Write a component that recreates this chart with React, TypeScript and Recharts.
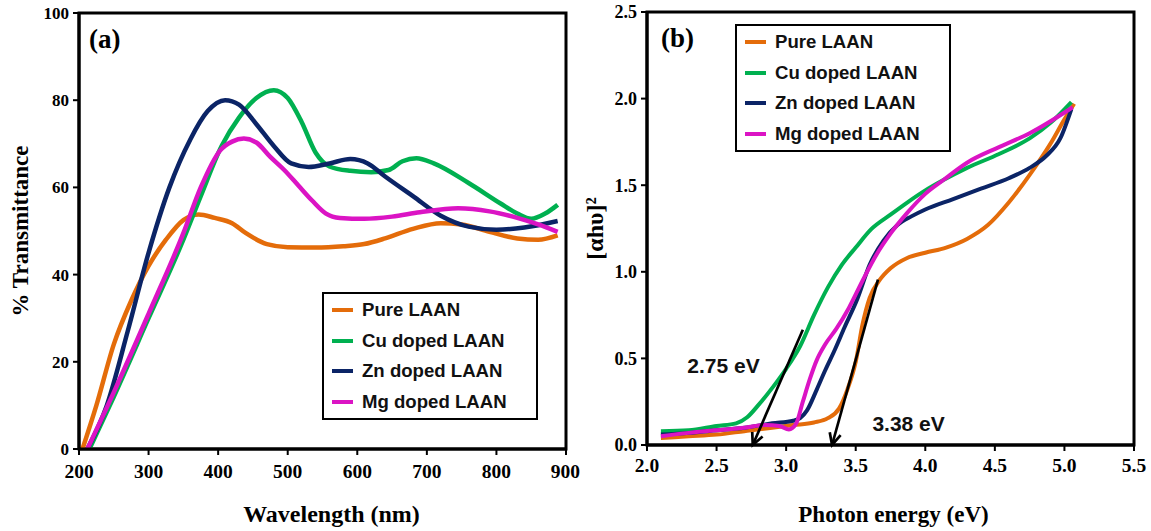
import {
  Legend,
  Line,
  LineChart,
  ReferenceArea,
  ReferenceDot,
  ReferenceLine,
  XAxis,
  YAxis,
} from "recharts";

const SERIF = "'Liberation Serif', 'Times New Roman', serif";
const SANS = "'Liberation Sans', Arial, sans-serif";

// panel (a): wavelength (nm) vs % transmittance
const wavelengthTicks = [200, 300, 400, 500, 600, 700, 800, 900];
const transmittanceTicks = [0, 20, 40, 60, 80, 100];

const pureT = [
  [205, 0], [225, 10], [250, 24], [275, 34], [300, 42], [325, 48], [350, 52.5], [372, 53.8],
  [395, 53], [420, 51.8], [440, 49.5], [470, 47], [500, 46.3], [540, 46.2], [580, 46.5],
  [610, 47], [640, 48.3], [680, 50.5], [720, 51.8], [750, 51.5], [790, 49.8], [830, 48.3],
  [860, 48], [888, 49],
];
const cuT = [
  [215, 0], [250, 12], [300, 30], [350, 48], [375, 58], [405, 69.5], [430, 76], [455, 80.5],
  [480, 82.3], [500, 80.5], [520, 75], [540, 68], [560, 64.8], [590, 63.8], [620, 63.5],
  [645, 64], [665, 66], [685, 66.7], [710, 65.5], [760, 61], [806, 56.3], [830, 54],
  [850, 52.8], [870, 54], [888, 56],
];
const znT = [
  [212, 0], [240, 10], [270, 27], [300, 45], [330, 60], [360, 71], [385, 77.5], [410, 80],
  [430, 79], [455, 74.5], [480, 69.5], [505, 65.5], [530, 64.7], [560, 65.5], [590, 66.5],
  [615, 65.5], [640, 62.5], [680, 58], [720, 53.5], [760, 51], [800, 50.3], [840, 50.8],
  [888, 52.3],
];
const mgT = [
  [212, 0], [250, 13], [300, 31], [350, 49.5], [375, 60], [403, 68.5], [420, 70.5], [437, 71.2],
  [455, 70.3], [475, 67], [495, 64], [515, 60.5], [535, 57], [555, 54], [575, 53], [610, 52.8],
  [650, 53.3], [690, 54.3], [745, 55.2], [790, 54.5], [830, 53], [860, 51.5], [888, 49.8],
];

// panel (b): photon energy (eV) vs (alpha h nu)^2
const energyTicks = [2.0, 2.5, 3.0, 3.5, 4.0, 4.5, 5.0, 5.5];
const taucTicks = [0, 0.5, 1.0, 1.5, 2.0, 2.5];

const pureTauc = [
  [2.1, 0.04], [2.3, 0.05], [2.5, 0.06], [2.7, 0.08], [2.9, 0.1], [3.05, 0.115], [3.2, 0.13],
  [3.3, 0.155], [3.38, 0.21], [3.44, 0.32], [3.5, 0.48], [3.55, 0.7], [3.6, 0.85], [3.67, 0.95],
  [3.75, 1.02], [3.87, 1.08], [4.0, 1.11], [4.15, 1.14], [4.3, 1.19], [4.45, 1.27], [4.6, 1.4],
  [4.75, 1.56], [4.9, 1.74], [5.0, 1.88], [5.07, 1.97],
];
const cuTauc = [
  [2.1, 0.08], [2.3, 0.085], [2.5, 0.11], [2.64, 0.125], [2.72, 0.16], [2.8, 0.23], [2.91, 0.34],
  [3.0, 0.44], [3.1, 0.57], [3.2, 0.75], [3.3, 0.91], [3.4, 1.04], [3.5, 1.14], [3.61, 1.245],
  [3.75, 1.33], [3.87, 1.4], [4.0, 1.47], [4.13, 1.53], [4.3, 1.6], [4.53, 1.68], [4.75, 1.77],
  [4.9, 1.86], [5.05, 1.98],
];
const znTauc = [
  [2.1, 0.06], [2.3, 0.07], [2.5, 0.085], [2.7, 0.1], [2.9, 0.125], [3.05, 0.14], [3.1, 0.155],
  [3.15, 0.2], [3.22, 0.32], [3.28, 0.43], [3.35, 0.55], [3.42, 0.68], [3.51, 0.84], [3.6, 1.04],
  [3.7, 1.18], [3.8, 1.27], [3.9, 1.32], [4.0, 1.36], [4.2, 1.42], [4.4, 1.48], [4.6, 1.54],
  [4.75, 1.6], [4.87, 1.67], [4.97, 1.77], [5.05, 1.94],
];
const mgTauc = [
  [2.1, 0.05], [2.3, 0.07], [2.5, 0.085], [2.7, 0.1], [2.85, 0.115], [2.95, 0.11], [3.02, 0.09],
  [3.07, 0.12], [3.12, 0.25], [3.17, 0.38], [3.22, 0.49], [3.28, 0.58], [3.36, 0.67], [3.45, 0.79],
  [3.55, 0.95], [3.65, 1.1], [3.75, 1.22], [3.87, 1.34], [4.0, 1.45], [4.13, 1.53], [4.3, 1.63],
  [4.53, 1.72], [4.75, 1.8], [5.06, 1.95],
];

const seriesNames = ["Pure LAAN", "Cu doped LAAN", "Zn doped LAAN", "Mg doped LAAN"];
const seriesColors = ["#E46C0A", "#00B050", "#0B2466", "#DB14C4"];
const transmittanceSets = [pureT, cuT, znT, mgT];
const taucSets = [pureTauc, cuTauc, znTauc, mgTauc];

// band gap arrows: [top point, tip point]
const gapArrows = [
  [[3.12, 0.665], [2.76, 0.0]],
  [[3.66, 0.955], [3.33, 0.0]],
];
const gapNotes = [
  { text: "2.75 eV", x: 2.55, y: 0.46 },
  { text: "3.38 eV", x: 3.88, y: 0.127 },
];

const toPoints = (rows: number[][]) => rows.map(([x, y]) => ({ x, y }));

function Arrow(props: any) {
  const { x1, y1, x2, y2 } = props;
  const a = Math.atan2(y2 - y1, x2 - x1);
  const h = 13;
  const w = 0.45;
  const head = `${x2 - h * Math.cos(a - w)},${y2 - h * Math.sin(a - w)} ${x2},${y2} ${
    x2 - h * Math.cos(a + w)
  },${y2 - h * Math.sin(a + w)}`;
  return (
    <g>
      <line x1={x1} y1={y1} x2={x2} y2={y2} stroke="#000" strokeWidth={2.7} />
      <polyline points={head} fill="none" stroke="#000" strokeWidth={2.7} />
    </g>
  );
}

function LegendBox() {
  return (
    <div
      style={{
        border: "2.5px solid #000",
        width: 216,
        boxSizing: "border-box",
        background: "#fff",
        fontFamily: SANS,
        fontWeight: 700,
        fontSize: 18.6,
        color: "#111",
        padding: "1px 0 1px 8px",
      }}
    >
      {seriesNames.map((name, i) => (
        <div key={name} style={{ display: "flex", alignItems: "center", height: 30.5 }}>
          <span
            style={{ display: "inline-block", width: 21, height: 4, background: seriesColors[i], marginRight: 9 }}
          />
          {name}
        </div>
      ))}
    </div>
  );
}

const tickStyle = (size: number) => ({ fill: "#000", fontSize: size, fontWeight: 700, fontFamily: SERIF });
const axisLine = { stroke: "#000", strokeWidth: 3 };
const tickLine = { stroke: "#000", strokeWidth: 2 };

function xTitle(text: string, size: number, dx: number) {
  return ({ viewBox }: any) => (
    <text
      x={viewBox.x + viewBox.width / 2 + dx}
      y={viewBox.y + viewBox.height - 9}
      textAnchor="middle"
      fontFamily={SERIF}
      fontWeight={700}
      fontSize={size}
      fill="#000"
    >
      {text}
    </text>
  );
}

function yTitle(text: string, size: number, cx: number) {
  return ({ viewBox }: any) => {
    const cy = viewBox.y + viewBox.height / 2;
    return (
      <text
        x={cx}
        y={cy}
        transform={`rotate(-90 ${cx} ${cy})`}
        textAnchor="middle"
        dominantBaseline="central"
        fontFamily={SERIF}
        fontWeight={700}
        fontSize={size}
        fill="#000"
      >
        {text}
      </text>
    );
  };
}

function PanelTag({ text, x, y }: { text: string; x: number; y: number }) {
  return (
    <ReferenceDot
      x={x}
      y={y}
      r={0}
      shape={(p: any) => (
        <text x={p.cx} y={p.cy} textAnchor="middle" dominantBaseline="central" fontFamily={SERIF} fontWeight={700} fontSize={27} fill="#000">
          {text}
        </text>
      )}
    />
  );
}

export default function App() {
  return (
    <div style={{ position: "absolute", left: 0, top: 0, width: 1151, height: 531, background: "#fff" }}>
      <div style={{ position: "absolute", left: 0, top: 0 }}>
        <LineChart width={580} height={531} margin={{ top: 13, right: 14, bottom: 0, left: 0 }}>
          <XAxis
            type="number"
            dataKey="x"
            domain={[200, 900]}
            ticks={wavelengthTicks}
            height={82}
            tick={tickStyle(19.5)}
            tickSize={6}
            tickMargin={9}
            axisLine={axisLine}
            tickLine={tickLine}
            label={xTitle("Wavelength (nm)", 24, 9)}
          />
          <YAxis
            type="number"
            dataKey="y"
            domain={[0, 100]}
            ticks={transmittanceTicks}
            width={79}
            tick={tickStyle(17)}
            tickSize={6}
            tickMargin={4}
            axisLine={axisLine}
            tickLine={tickLine}
            label={yTitle("% Transmittance", 23, 20)}
          />
          <ReferenceArea x1={200} x2={900} y1={0} y2={100} fill="none" stroke="#000" strokeWidth={3} />
          {transmittanceSets.map((rows, i) => (
            <Line
              key={seriesNames[i]}
              data={toPoints(rows)}
              dataKey="y"
              name={seriesNames[i]}
              type="monotone"
              stroke={seriesColors[i]}
              strokeWidth={4.5}
              dot={false}
              isAnimationActive={false}
            />
          ))}
          <PanelTag text="(a)" x={237} y={94} />
          <Legend
            layout="vertical"
            align="center"
            verticalAlign="middle"
            content={<LegendBox />}
            wrapperStyle={{ left: 322, top: 292, width: 216 }}
          />
        </LineChart>
      </div>

      <div style={{ position: "absolute", left: 580, top: 0 }}>
        <LineChart width={571} height={531} margin={{ top: 12, right: 17, bottom: 0, left: 0 }}>
          <XAxis
            type="number"
            dataKey="x"
            domain={[2, 5.5]}
            ticks={energyTicks}
            height={86}
            tick={tickStyle(19.5)}
            tickFormatter={(v: number) => v.toFixed(1)}
            tickSize={6}
            tickMargin={7}
            axisLine={axisLine}
            tickLine={tickLine}
            label={xTitle("Photon energy (eV)", 23, 3)}
          />
          <YAxis
            type="number"
            dataKey="y"
            domain={[0, 2.5]}
            ticks={taucTicks}
            width={67}
            tick={tickStyle(18)}
            tickFormatter={(v: number) => v.toFixed(1)}
            tickSize={6}
            tickMargin={4}
            axisLine={axisLine}
            tickLine={tickLine}
            label={yTitle("[αhυ]²", 24, 15)}
          />
          <ReferenceArea x1={2} x2={5.5} y1={0} y2={2.5} fill="none" stroke="#000" strokeWidth={3} />
          {taucSets.map((rows, i) => (
            <Line
              key={seriesNames[i]}
              data={toPoints(rows)}
              dataKey="y"
              name={seriesNames[i]}
              type="monotone"
              stroke={seriesColors[i]}
              strokeWidth={4}
              dot={false}
              isAnimationActive={false}
            />
          ))}
          {gapArrows.map(([from, to], i) => (
            <ReferenceLine
              key={`arrow-${i}`}
              segment={[
                { x: from[0], y: from[1] },
                { x: to[0], y: to[1] },
              ]}
              ifOverflow="visible"
              shape={Arrow}
            />
          ))}
          {gapNotes.map((n) => (
            <ReferenceDot
              key={n.text}
              x={n.x}
              y={n.y}
              r={0}
              shape={(p: any) => (
                <text x={p.cx} y={p.cy} textAnchor="middle" dominantBaseline="central" fontFamily={SANS} fontWeight={700} fontSize={21} fill="#111">
                  {n.text}
                </text>
              )}
            />
          ))}
          <PanelTag text="(b)" x={2.22} y={2.35} />
          <Legend
            layout="vertical"
            align="center"
            verticalAlign="middle"
            content={<LegendBox />}
            wrapperStyle={{ left: 155, top: 24, width: 216 }}
          />
        </LineChart>
      </div>
    </div>
  );
}
